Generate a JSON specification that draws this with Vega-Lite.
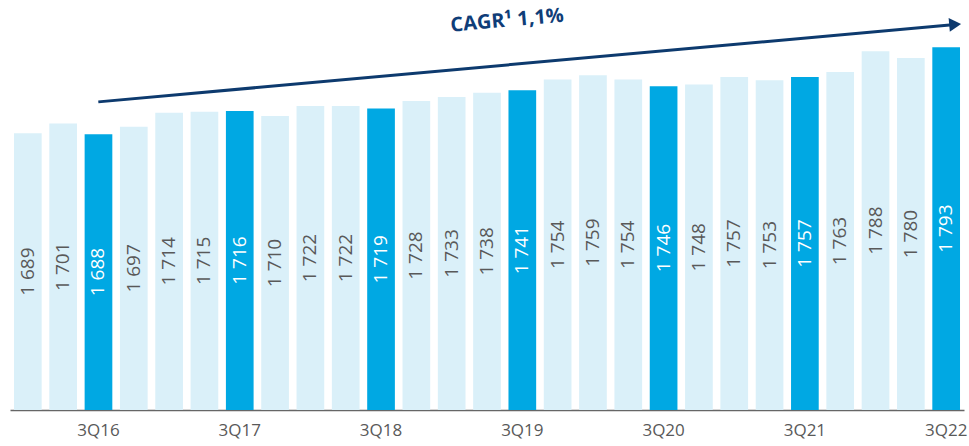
{
  "$schema": "https://vega.github.io/schema/vega-lite/v6.json",
  "width": 954,
  "height": 410,
  "padding": {"left": 10, "top": 0, "right": 5, "bottom": 36},
  "autosize": {"type": "none"},
  "config": {
    "view": {"stroke": null},
    "font": "Open Sans",
    "locale": {"number": {"decimal": ",", "thousands": " ", "grouping": [3], "currency": ["", ""]}}
  },
  "datasets": {
    "bars": [
      {"q": "1Q16", "v": 1689, "hl": "n"},
      {"q": "2Q16", "v": 1701, "hl": "n"},
      {"q": "3Q16", "v": 1688, "hl": "y"},
      {"q": "4Q16", "v": 1697, "hl": "n"},
      {"q": "1Q17", "v": 1714, "hl": "n"},
      {"q": "2Q17", "v": 1715, "hl": "n"},
      {"q": "3Q17", "v": 1716, "hl": "y"},
      {"q": "4Q17", "v": 1710, "hl": "n"},
      {"q": "1Q18", "v": 1722, "hl": "n"},
      {"q": "2Q18", "v": 1722, "hl": "n"},
      {"q": "3Q18", "v": 1719, "hl": "y"},
      {"q": "4Q18", "v": 1728, "hl": "n"},
      {"q": "1Q19", "v": 1733, "hl": "n"},
      {"q": "2Q19", "v": 1738, "hl": "n"},
      {"q": "3Q19", "v": 1741, "hl": "y"},
      {"q": "4Q19", "v": 1754, "hl": "n"},
      {"q": "1Q20", "v": 1759, "hl": "n"},
      {"q": "2Q20", "v": 1754, "hl": "n"},
      {"q": "3Q20", "v": 1746, "hl": "y"},
      {"q": "4Q20", "v": 1748, "hl": "n"},
      {"q": "1Q21", "v": 1757, "hl": "n"},
      {"q": "2Q21", "v": 1753, "hl": "n"},
      {"q": "3Q21", "v": 1757, "hl": "y"},
      {"q": "4Q21", "v": 1763, "hl": "n"},
      {"q": "1Q22", "v": 1788, "hl": "n"},
      {"q": "2Q22", "v": 1780, "hl": "n"},
      {"q": "3Q22", "v": 1793, "hl": "y"}
    ],
    "arrow": [
      {"x1": 2, "y1": 1727, "x2": 26.25, "y2": 1820.5}
    ],
    "cagr": [
      {"x": 13.57, "y": 1825, "label": "CAGR¹ 1,1%"}
    ]
  },
  "layer": [
    {
      "data": {"name": "bars"},
      "mark": {"type": "bar"},
      "encoding": {
        "x": {
          "field": "q", "type": "ordinal", "sort": null,
          "scale": {"paddingInner": 0.216, "paddingOuter": 0.113},
          "axis": {
            "title": null, "ticks": false, "labelAngle": 0,
            "labelExpr": "indexof(datum.value, '3Q') == 0 ? datum.value : ''",
            "labelFont": "Open Sans", "labelFontSize": 17, "labelColor": "#595959",
            "labelPadding": 12, "domainColor": "#666666", "domainWidth": 1.5
          }
        },
        "y": {
          "field": "v", "type": "quantitative",
          "scale": {"domain": [1355, 1850], "zero": false, "nice": false},
          "axis": null
        },
        "y2": {"datum": 1355},
        "color": {
          "field": "hl", "type": "nominal",
          "scale": {"domain": ["n", "y"], "range": ["#DAF0F9", "#00A8E3"]},
          "legend": null
        }
      }
    },
    {
      "data": {"name": "bars"},
      "mark": {"type": "text", "angle": 270, "align": "center", "baseline": "middle", "font": "Open Sans", "fontSize": 19},
      "encoding": {
        "x": {
          "field": "q", "type": "ordinal", "sort": null,
          "scale": {"paddingInner": 0.216, "paddingOuter": 0.113},
          "axis": null
        },
        "y": {
          "field": "v", "type": "quantitative",
          "scale": {"domain": [1355, 2345], "zero": false, "nice": false},
          "axis": null
        },
        "text": {"field": "v", "type": "quantitative", "format": ",d"},
        "color": {
          "field": "hl", "type": "nominal",
          "scale": {"domain": ["n", "y"], "range": ["#595959", "#FFFFFF"]},
          "legend": null
        }
      }
    },
    {
      "data": {"name": "arrow"},
      "mark": {"type": "rule", "strokeWidth": 3, "color": "#0D3A6E"},
      "encoding": {
        "x": {"field": "x1", "type": "quantitative", "scale": {"domain": [-0.5, 26.5], "nice": false, "zero": false}, "axis": null},
        "x2": {"field": "x2"},
        "y": {"field": "y1", "type": "quantitative", "scale": {"domain": [1355, 1850], "zero": false, "nice": false}, "axis": null},
        "y2": {"field": "y2"}
      }
    },
    {
      "data": {"name": "arrow"},
      "mark": {"type": "point", "shape": "triangle-right", "filled": true, "size": 190, "angle": 355, "color": "#0D3A6E", "opacity": 1},
      "encoding": {
        "x": {"field": "x2", "type": "quantitative", "scale": {"domain": [-0.5, 26.5], "nice": false, "zero": false}, "axis": null},
        "y": {"field": "y2", "type": "quantitative", "scale": {"domain": [1355, 1850], "zero": false, "nice": false}, "axis": null}
      }
    },
    {
      "data": {"name": "cagr"},
      "mark": {"type": "text", "font": "Open Sans", "fontWeight": "bold", "fontSize": 20, "color": "#0F3D78", "angle": 355, "align": "center", "baseline": "middle"},
      "encoding": {
        "x": {"field": "x", "type": "quantitative", "scale": {"domain": [-0.5, 26.5], "nice": false, "zero": false}, "axis": null},
        "y": {"field": "y", "type": "quantitative", "scale": {"domain": [1355, 1850], "zero": false, "nice": false}, "axis": null},
        "text": {"field": "label"}
      }
    }
  ],
  "resolve": {"scale": {"x": "independent", "y": "independent", "color": "independent"}}
}
